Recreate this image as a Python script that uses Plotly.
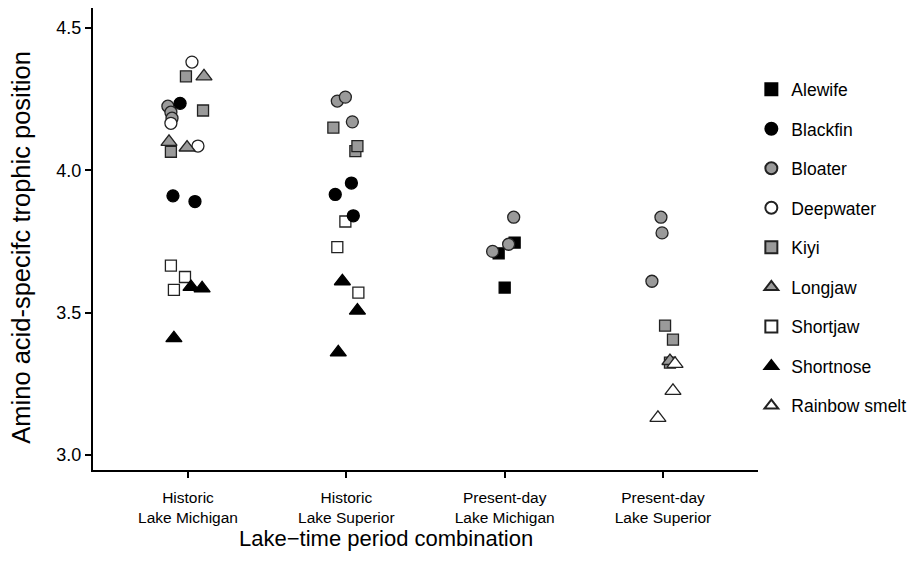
import plotly.graph_objects as go

categories = ["Historic<br>Lake Michigan", "Historic<br>Lake Superior",
              "Present-day<br>Lake Michigan", "Present-day<br>Lake Superior"]
y_ticks = [3.0, 3.5, 4.0, 4.5]
x_title = "Lake−time period combination"
y_title = "Amino acid-specifc trophic position"

# group index (0..3), trophic position, horizontal jitter (category units)
alewife_grp = [2, 2, 2]
alewife_tp = [3.746, 3.708, 3.588]
alewife_jit = [0.063, -0.038, 0.0]

blackfin_grp = [0, 0, 0, 1, 1, 1]
blackfin_tp = [4.235, 3.91, 3.89, 3.955, 3.915, 3.84]
blackfin_jit = [-0.05, -0.095, 0.044, 0.032, -0.07, 0.044]

bloater_grp = [0, 0, 0, 1, 1, 1, 2, 2, 2, 3, 3, 3]
bloater_tp = [4.225, 4.204, 4.183, 4.243, 4.257, 4.17, 3.835, 3.74, 3.715, 3.835, 3.78, 3.61]
bloater_jit = [-0.127, -0.108, -0.101, -0.057, -0.006, 0.038, 0.057, 0.025, -0.076, -0.013, -0.006, -0.07]

deepwater_grp = [0, 0, 0]
deepwater_tp = [4.38, 4.165, 4.085]
deepwater_jit = [0.025, -0.108, 0.063]

kiyi_grp = [0, 0, 0, 1, 1, 1, 3, 3, 3]
kiyi_tp = [4.33, 4.21, 4.065, 4.15, 4.067, 4.085, 3.454, 3.405, 3.324]
kiyi_jit = [-0.013, 0.095, -0.108, -0.082, 0.057, 0.07, 0.013, 0.063, 0.044]

longjaw_grp = [0, 0, 0, 3]
longjaw_tp = [4.33, 4.10, 4.08, 3.33]
longjaw_jit = [0.101, -0.12, -0.006, 0.044]

shortjaw_grp = [0, 0, 0, 1, 1, 1]
shortjaw_tp = [3.665, 3.625, 3.58, 3.82, 3.73, 3.57]
shortjaw_jit = [-0.108, -0.019, -0.089, -0.006, -0.057, 0.076]

shortnose_grp = [0, 0, 0, 1, 1, 1]
shortnose_tp = [3.59, 3.585, 3.41, 3.61, 3.507, 3.36]
shortnose_jit = [0.019, 0.089, -0.089, -0.025, 0.07, -0.051]

smelt_grp = [3, 3, 3]
smelt_tp = [3.32, 3.225, 3.13]
smelt_jit = [0.076, 0.063, -0.032]

BLACK = "#000000"
GRAY = "#9a9a9a"
WHITE = "#ffffff"
EDGE = "#222222"

series = [
    # name, groups, values, jitter, symbol, fill, size, legend rank
    ("Alewife", alewife_grp, alewife_tp, alewife_jit, "square", BLACK, 11, 1),
    ("Bloater", bloater_grp, bloater_tp, bloater_jit, "circle", GRAY, 12, 3),
    ("Deepwater", deepwater_grp, deepwater_tp, deepwater_jit, "circle", WHITE, 12, 4),
    ("Kiyi", kiyi_grp, kiyi_tp, kiyi_jit, "square", GRAY, 11, 5),
    ("Longjaw", longjaw_grp, longjaw_tp, longjaw_jit, "triangle-up", GRAY, 14, 6),
    ("Shortjaw", shortjaw_grp, shortjaw_tp, shortjaw_jit, "square", WHITE, 11, 7),
    ("Blackfin", blackfin_grp, blackfin_tp, blackfin_jit, "circle", BLACK, 12, 2),
    ("Shortnose", shortnose_grp, shortnose_tp, shortnose_jit, "triangle-up", BLACK, 14, 8),
    ("Rainbow smelt", smelt_grp, smelt_tp, smelt_jit, "triangle-up", WHITE, 14, 9),
]

fig = go.Figure()
for name, grp, vals, jit, sym, fill, size, rank in series:
    fig.add_trace(go.Scatter(
        x=[g + j for g, j in zip(grp, jit)], y=vals, mode="markers", name=name,
        legendgroup=name, legendrank=rank,
        marker=dict(symbol=sym, color=fill, size=size,
                    line=dict(color=EDGE if fill != BLACK else BLACK, width=1.3)),
    ))

FONT = "Liberation Sans, Arial, sans-serif"
fig.update_layout(
    width=917, height=577,
    margin=dict(l=85, r=167, t=0, b=115),
    plot_bgcolor="white", paper_bgcolor="white",
    font=dict(family=FONT, color="black"),
    showlegend=True,
    legend=dict(x=0.99, xanchor="left", y=0.863, yanchor="top",
                font=dict(size=17.5, family=FONT), traceorder="grouped",
                tracegroupgap=13.8, itemsizing="constant", bgcolor="rgba(0,0,0,0)"),
    xaxis=dict(range=[-0.6, 3.6], tickmode="array", tickvals=[0, 1, 2, 3], ticktext=categories,
               showline=True, linecolor="black", linewidth=2, ticks="outside", ticklen=6,
               tickwidth=1.5, tickcolor="black", showgrid=False, zeroline=False,
               tickfont=dict(size=15.5), automargin=False, ticklabelstandoff=6),
    yaxis=dict(range=[2.947, 4.57], tickmode="array", tickvals=y_ticks,
               ticktext=[f"{v:.1f}" for v in y_ticks],
               showline=True, linecolor="black", linewidth=2, ticks="outside", ticklen=6,
               tickwidth=1.5, tickcolor="black", showgrid=False, zeroline=False,
               tickfont=dict(size=18), automargin=False),
    annotations=[
        dict(text=x_title, xref="paper", yref="paper", x=0.4406, y=-0.149,
             xanchor="center", yanchor="middle", showarrow=False, font=dict(size=22)),
        dict(text=y_title, xref="paper", yref="paper", x=-0.1085, y=0.483, textangle=-90,
             xanchor="center", yanchor="middle", showarrow=False, font=dict(size=25.5)),
    ],
)

fig.write_html("out.html")
